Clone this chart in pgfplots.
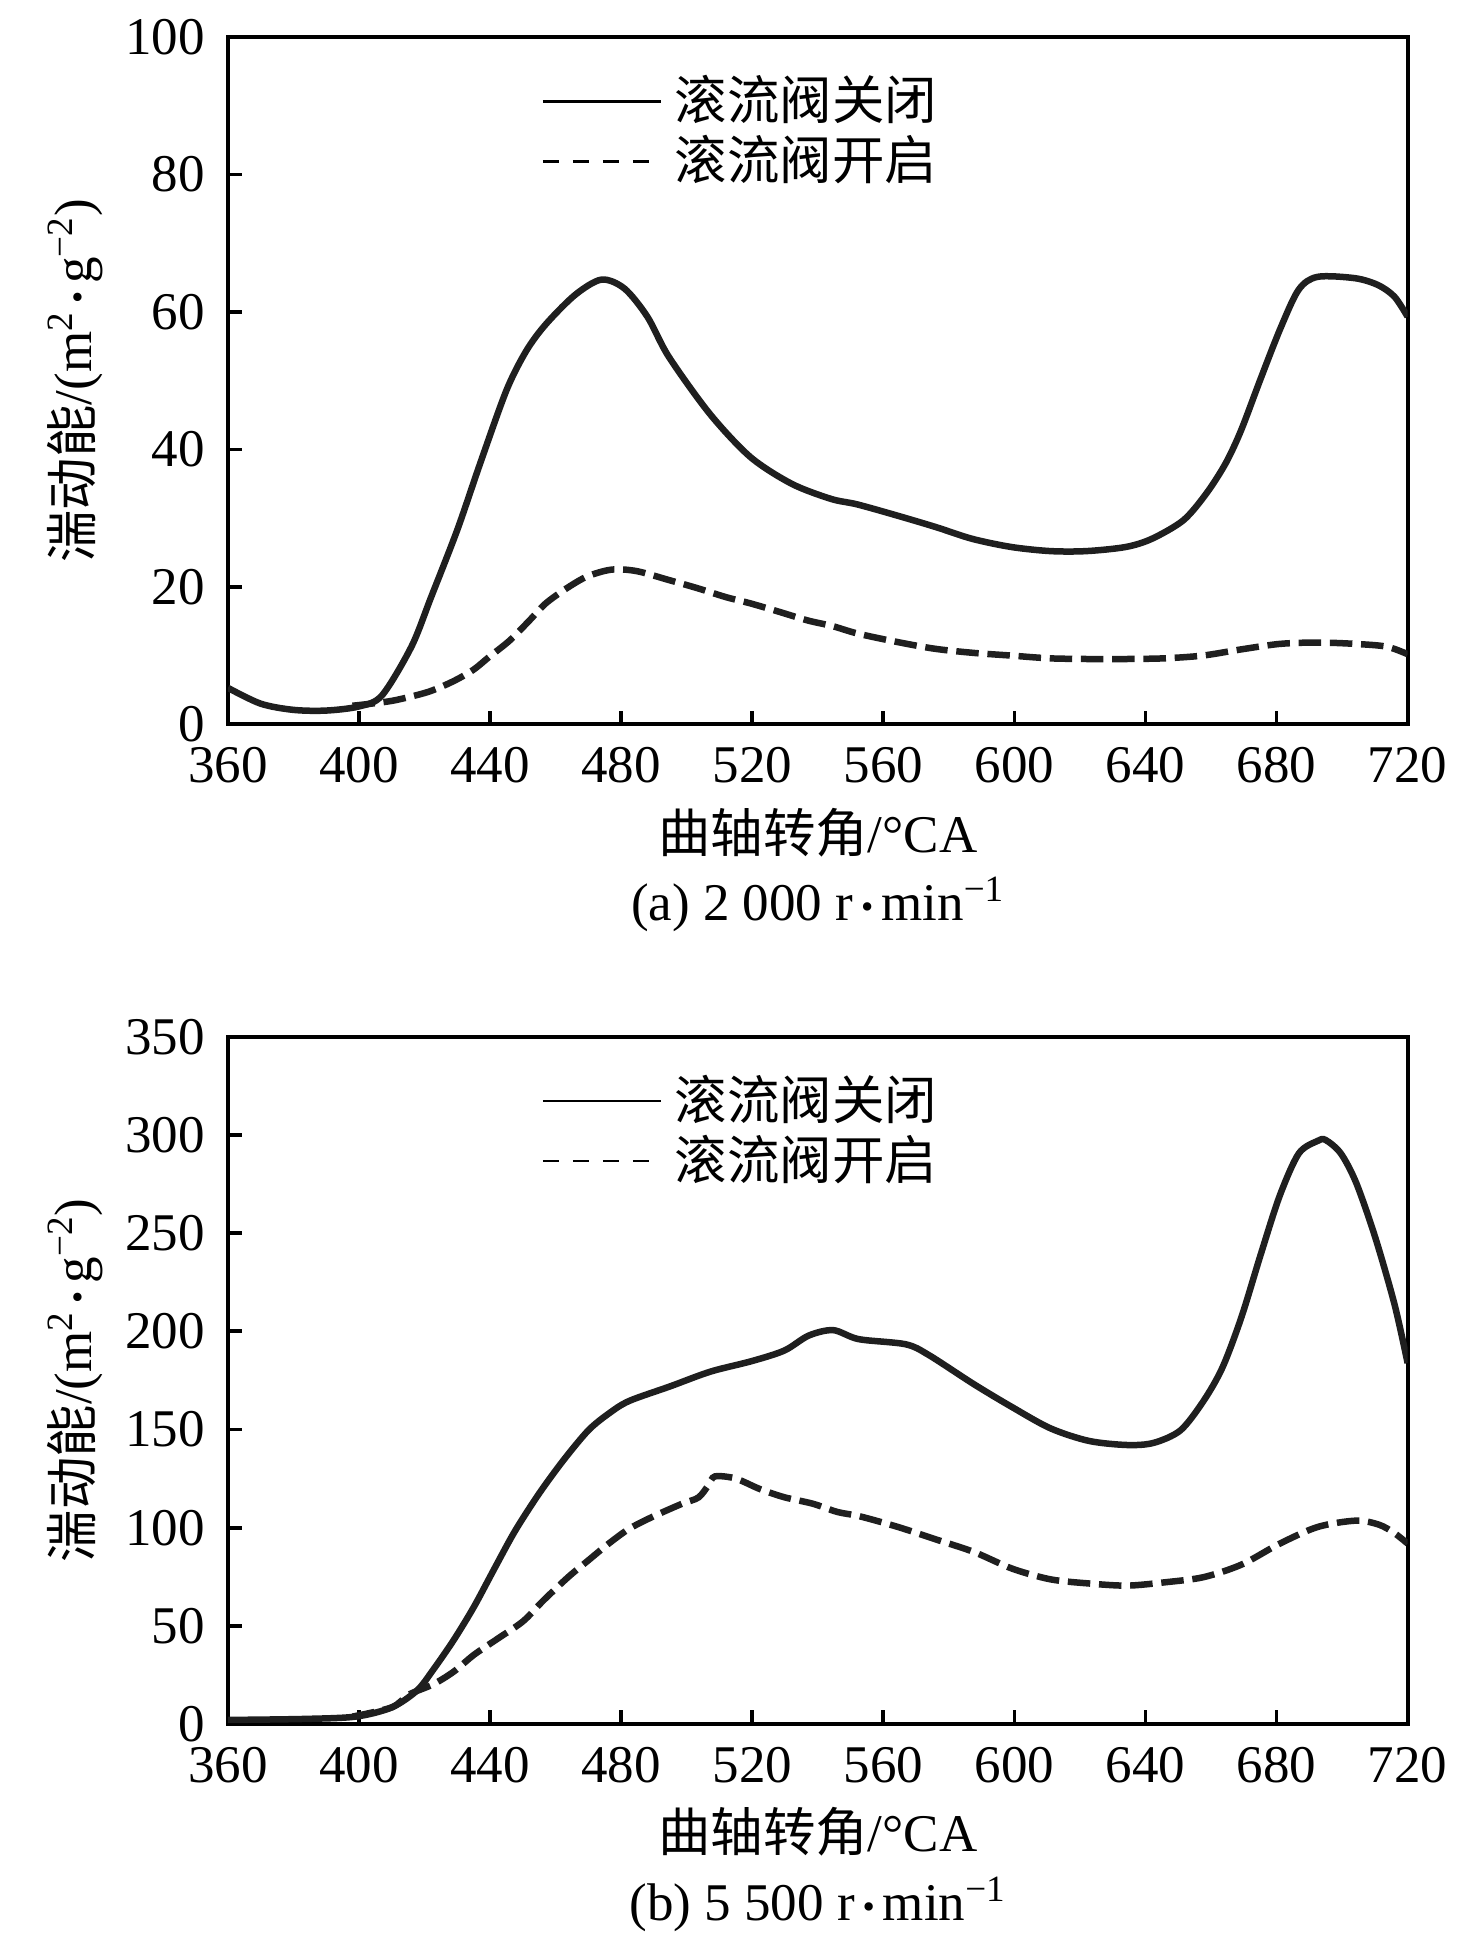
\documentclass[border=0pt]{standalone}
\usepackage{fontspec}
\setmainfont{Liberation Serif}
\newfontfamily\cjk{Noto Sans CJK SC}[Scale=0.99]
\usepackage{pgfplots}
\pgfplotsset{compat=1.18}
\newcommand\bdot{\kern0.15em\raisebox{0.8pt}{\fontsize{14}{14}\selectfont •}\kern0.15em}

\pgfplotsset{
  myaxis/.style={
    scale only axis, width=472pt, height=275pt,
    clip mode=individual,
    xmin=360, xmax=720, xtick={360,400,...,720},
    tick align=inside, xtick pos=bottom, ytick pos=left,
    major tick length=5.5pt,
    every tick/.style={black, line width=1.5pt},
    axis line style={line width=1.5pt},
    /pgf/number format/assume math mode=true,
    /pgf/number format/1000 sep={},
    xticklabel style={inner sep=0pt, anchor=north, yshift=-9pt},
    yticklabel style={inner sep=0pt, anchor=east, xshift=-9pt},
    xlabel style={at={(axis description cs:0.5,-0.157)}, anchor=center, inner sep=0pt},
    ylabel style={at={(axis description cs:-0.1297,0.5)}, anchor=center, inner sep=0pt},
    xlabel={{\cjk 曲轴转角}/°CA},
    ylabel={{\cjk 湍动能}/(m\textsuperscript{2}\bdot g\textsuperscript{−2})},
    legend style={at={(0.2653,1)}, anchor=north west, yshift=-15.5pt,
      draw=none, fill=none, inner sep=0pt, row sep=0pt,
      nodes={inner sep=0pt, text height=17.5pt, text depth=6.5pt},
      /tikz/every odd column/.append style={column sep=5pt}},
    legend cell align=left,
    legend image code/.code={\draw[##1] (0pt,2pt) -- (47.2pt,2pt);},
  },
  closedline/.style={black!88, line width=2.6pt, smooth, no markers},
  openline/.style={black!88, line width=2.6pt, smooth, no markers, dash pattern=on 9pt off 3.5pt},
}

\begin{document}
\begin{tikzpicture}[font=\fontsize{21.2pt}{25pt}\selectfont]
\path[use as bounding box] (-91.2pt,-488.4pt) rectangle (499.2pt,289.8pt);

\begin{axis}[myaxis, at={(0pt,0pt)}, anchor=south west,
  ymin=0, ymax=100, ytick={0,20,...,100}]
\addlegendimage{black, line width=1.1pt}
\addlegendentry{{\cjk 滚流阀关闭}}
\addlegendimage{black, line width=1.1pt, dash pattern=on 6.5pt off 5.5pt}
\addlegendentry{{\cjk 滚流阀开启}}
\addplot[closedline, forget plot] coordinates {
(360,5.3) (370,3.0) (380,2.1) (390,2.0) (400,2.6) (407,4.2) (416,11.3) (422,18.5)
(430,28.3) (437,38.0) (445,48.6) (451,54.3) (457,58.2) (466,62.5) (474,64.7)
(481,63.4) (488,59.3) (494.5,53.5) (507,45.2) (519.4,38.9) (532,35.0) (544,32.8)
(552,32.0) (564,30.4) (576,28.7) (587,27.0) (599,25.8) (611,25.2) (622,25.2)
(634,25.8) (642,27.0) (651.6,29.7) (658.6,33.6) (664.5,38.0) (669.2,42.8)
(675,50.1) (681,57.4) (686.7,63.2) (692.5,65.1) (704,64.9) (711,63.9) (716,62.2) (720,59.3)
};
\addplot[openline, forget plot] coordinates {
(398,2.7) (403.6,3.0) (411,3.5) (421,4.7) (428.5,6.2) (434.8,7.9) (439.7,9.8)
(446,12.2) (452,15.1) (457,17.6) (463.4,19.8) (469.6,21.5) (477,22.5) (484.6,22.3)
(494.5,21.0) (503.3,19.8) (512,18.5) (519.4,17.6) (528,16.4) (537,15.1) (544.4,14.3)
(552.2,13.2) (564,12.0) (575.6,11.0) (587.3,10.4) (599,10.0) (610.7,9.6) (622.4,9.5)
(634,9.5) (645.8,9.6) (657.5,10.0) (669.2,10.9) (681,11.7) (692.5,11.9) (704,11.7)
(713.6,11.3) (720,10.2)
};
\node[anchor=center, inner sep=0pt] at (axis description cs:0.5,-0.2618)
  {(a) 2 000 r\bdot min\textsuperscript{−1}};
\end{axis}

\begin{axis}[myaxis, at={(0pt,-400pt)}, anchor=south west,
  ymin=0, ymax=350, ytick={0,50,...,350}]
\addlegendimage{black, line width=1.1pt}
\addlegendentry{{\cjk 滚流阀关闭}}
\addlegendimage{black, line width=1.1pt, dash pattern=on 6.5pt off 5.5pt}
\addlegendentry{{\cjk 滚流阀开启}}
\addplot[closedline, forget plot] coordinates {
(360,2.1) (383,2.6) (399,3.8) (410,8.5) (417.7,17.1) (422.7,27.8) (428.9,42.8)
(435.1,59.8) (441.3,79.1) (447.6,98.3) (455,117.5) (462.5,134.6) (470,149.6)
(476.2,158.1) (482.4,164.5) (495,172) (507.3,179.5) (519.8,184.8) (529.8,190.2)
(537.2,197.8) (544.7,200.6) (552.5,196) (566.8,193.4) (573.8,188) (587.7,173)
(599.4,161.3) (611,150.6) (622.7,144.2) (634.4,142.1) (642.5,143.2) (650.7,149.6)
(657.7,164.5) (663.5,181.6) (669.3,207.3) (675.2,239.3) (681,269.2) (686.8,290.6)
(692.6,297) (695,297.4) (699.6,290.6) (704.3,275.6) (710.1,247.9) (716,213.7) (720,183.8)
};
\addplot[openline, forget plot] coordinates {
(398,3.8) (410,8.5) (415.2,15) (422.7,20.3) (428.9,26.7) (435.1,35.3) (442.6,43.8)
(450.1,52.4) (456.3,63) (463.8,74.8) (470,83.4) (476.2,91.9) (482.4,99.4)
(489.9,105.8) (498.6,112.2) (503.6,115.4) (506.7,121.8) (508.6,126.1) (514.8,125.1)
(522.3,119.7) (529.8,115.5) (538.5,112.2) (546,108) (552.8,105.8) (564.4,100.4)
(576.1,94) (587.7,87.6) (599.4,79.1) (611,73.7) (622.7,71.6) (634.4,70.5) (646,72.2)
(657.7,74.8) (669.3,81.2) (681,91.9) (692.6,100.4) (704.3,103.6) (711.3,101.5)
(716,97.2) (720,91.9)
};
\node[anchor=center, inner sep=0pt] at (axis description cs:0.5,-0.2618)
  {(b) 5 500 r\bdot min\textsuperscript{−1}};
\end{axis}
\end{tikzpicture}
\end{document}
